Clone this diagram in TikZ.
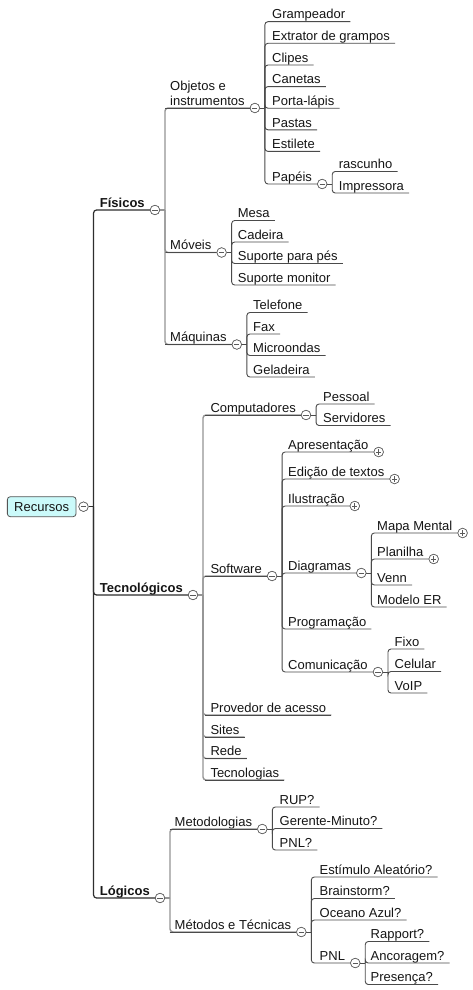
\documentclass[tikz,border=0pt]{standalone}
\usepackage{fontspec}
\setmainfont{Liberation Sans}
\usetikzlibrary{calc}
\definecolor{txt}{HTML}{151515}
\definecolor{trunkc}{HTML}{2E2E2E}
\definecolor{lonec}{HTML}{959595}
\definecolor{ltwoc}{HTML}{4A4A4A}
\definecolor{togline}{HTML}{5A5A5A}
\definecolor{rootfill}{HTML}{CBFAFA}
\definecolor{boxline}{HTML}{555555}
\begin{document}
\begin{tikzpicture}[x=1pt,y=-1pt,
  font=\fontsize{13}{14.5}\selectfont,
  topic/.style={anchor=south west, inner xsep=5pt, inner ysep=2.5pt, text depth=0pt, text=txt},
  bold/.style={font=\fontsize{13}{14.5}\selectfont\bfseries},
  rootbox/.style={draw=boxline, fill=rootfill, rounded corners=3pt, minimum width=68.7pt, minimum height=20pt, inner sep=0pt, line width=0.8pt, text=txt},
  tog/.style={circle, draw=togline, fill=white, line width=0.6pt, minimum size=9.5pt, inner sep=0pt, anchor=west},
  togminus/.style={tog, path picture={\draw[togline, line width=0.8pt] ([xshift=-2.6pt]path picture bounding box.center) -- ([xshift=2.6pt]path picture bounding box.center);}},
  togplus/.style={tog, path picture={\draw[togline, line width=0.8pt] ([xshift=-2.6pt]path picture bounding box.center) -- ([xshift=2.6pt]path picture bounding box.center) ([yshift=-2.6pt]path picture bounding box.center) -- ([yshift=2.6pt]path picture bounding box.center);}},
  trunk/.style={draw=trunkc, line width=1.2pt, rounded corners=3pt},
  lone/.style={draw=lonec, line width=1.4pt, rounded corners=3pt},
  uline/.style={draw=ltwoc, line width=0.9pt},
  ltwo/.style={draw=ltwoc, line width=0.9pt, rounded corners=3pt},
]
\fill[white] (0,0) rectangle (473,990);
\useasboundingbox (0,0) rectangle (473,990);

% ---------- root ----------
\node[rootbox] (root) at (41.7,506.7) {Recursos};
\node[togminus] (root-c) at ([xshift=2pt]root.east) {};
\coordinate (root-s) at ([xshift=5pt]root-c.east);

% ---------- level 1 ----------
\node[topic,bold] (fis) at (94.7,210) {Físicos};
\node[topic,bold] (tec) at (94.7,595) {Tecnológicos};
\node[topic,bold] (log) at (94.7,898) {Lógicos};
\foreach \n in {fis,tec,log}{
  \node[togminus] (\n-c) at (\n.south east) {};
  \coordinate (\n-s) at ([xshift=5pt]\n-c.east);
}

% ---------- Físicos ----------
\node[topic,align=left] (obj) at (165,108) {Objetos e\\instrumentos};
\node[topic] (mov) at (165,252.5) {Móveis};
\node[topic] (maq) at (165,344.5) {Máquinas};
\foreach \n in {obj,mov,maq}{
  \node[togminus] (\n-c) at (\n.south east) {};
  \coordinate (\n-s) at ([xshift=5pt]\n-c.east);
}

\node[topic] (o1) at (267,21.7) {Grampeador};
\node[topic] (o2) at (267,43.3) {Extrator de grampos};
\node[topic] (o3) at (267,65) {Clipes};
\node[topic] (o4) at (267,86.6) {Canetas};
\node[topic] (o5) at (267,108.2) {Porta-lápis};
\node[topic] (o6) at (267,129.8) {Pastas};
\node[topic] (o7) at (267,151.4) {Estilete};
\node[topic] (pap) at (267,184) {Papéis};
\node[togminus] (pap-c) at (pap.south east) {};
\coordinate (pap-s) at ([xshift=5pt]pap-c.east);
\node[topic] (p1) at (333.7,171.5) {rascunho};
\node[topic] (p2) at (333.7,193) {Impressora};

\node[topic] (m1) at (232.7,220.5) {Mesa};
\node[topic] (m2) at (232.7,242) {Cadeira};
\node[topic] (m3) at (232.7,263.5) {Suporte para pés};
\node[topic] (m4) at (232.7,285) {Suporte monitor};

\node[topic] (q1) at (248,312.5) {Telefone};
\node[topic] (q2) at (248,334) {Fax};
\node[topic] (q3) at (248,355.5) {Microondas};
\node[topic] (q4) at (248,377) {Geladeira};

% ---------- Tecnológicos ----------
\node[topic] (comp) at (205.3,415) {Computadores};
\node[topic] (soft) at (205.3,576) {Software};
\foreach \n in {comp,soft}{
  \node[togminus] (\n-c) at (\n.south east) {};
  \coordinate (\n-s) at ([xshift=5pt]\n-c.east);
}
\node[topic] (prov) at (205.3,715) {Provedor de acesso};
\node[topic] (sites) at (205.3,737) {Sites};
\node[topic] (rede) at (205.3,758.5) {Rede};
\node[topic] (tecn) at (205.3,780) {Tecnologias};

\node[topic] (c1) at (318,404) {Pessoal};
\node[topic] (c2) at (318,425.5) {Servidores};

\node[topic] (apr) at (283,452) {Apresentação};
\node[topic] (edi) at (283,479) {Edição de textos};
\node[topic] (ilu) at (283,506) {Ilustração};
\node[topic] (diag) at (283,573) {Diagramas};
\node[topic] (prog) at (283,629) {Programação};
\node[topic] (com) at (283,672) {Comunicação};
\foreach \n in {apr,edi,ilu}{
  \node[togplus] (\n-c) at (\n.south east) {};
}
\foreach \n in {diag,com}{
  \node[togminus] (\n-c) at (\n.south east) {};
  \coordinate (\n-s) at ([xshift=5pt]\n-c.east);
}

\node[topic] (mapa) at (372,533) {Mapa Mental};
\node[topic] (plan) at (372,559) {Planilha};
\foreach \n in {mapa,plan}{
  \node[togplus] (\n-c) at (\n.south east) {};
}
\node[topic] (venn) at (372,585) {Venn};
\node[topic] (mer) at (372,607) {Modelo ER};

\node[topic] (k1) at (389.5,649) {Fixo};
\node[topic] (k2) at (389.5,671.5) {Celular};
\node[topic] (k3) at (389.5,693) {VoIP};

% ---------- Lógicos ----------
\node[topic] (met) at (169.5,829) {Metodologias};
\node[topic] (mt) at (169.5,932) {Métodos e Técnicas};
\foreach \n in {met,mt}{
  \node[togminus] (\n-c) at (\n.south east) {};
  \coordinate (\n-s) at ([xshift=5pt]\n-c.east);
}
\node[topic] (e1) at (274.5,807) {RUP?};
\node[topic] (e2) at (274.5,828.5) {Gerente-Minuto?};
\node[topic] (e3) at (274.5,850) {PNL?};

\node[topic] (t1) at (314.5,877) {Estímulo Aleatório?};
\node[topic] (t2) at (314.5,898.5) {Brainstorm?};
\node[topic] (t3) at (314.5,920) {Oceano Azul?};
\node[topic] (pnl) at (314.5,963) {PNL};
\node[togminus] (pnl-c) at (pnl.south east) {};
\coordinate (pnl-s) at ([xshift=5pt]pnl-c.east);

\node[topic] (r1) at (365.5,941.5) {Rapport?};
\node[topic] (r2) at (365.5,963) {Ancoragem?};
\node[topic] (r3) at (365.5,984.5) {Presença?};

% ---------- connectors ----------
% trunk
\draw[trunk] (root-c.east) -- (root-s);
\foreach \n in {fis,tec,log}{ \draw[trunk] (root-s) |- (\n-c.west); }

% level 1 -> level 2
\foreach \p/\n in {fis/obj,fis/mov,fis/maq,tec/comp,tec/soft,log/met,log/mt}{
  \draw[lone] (\p-c.east) -- (\p-s);
  \draw[lone] (\p-s) |- (\n-c.west);
  \draw[uline] (\n.south west) -- (\n-c.west);
}
\foreach \n in {prov,sites,rede,tecn}{
  \draw[lone] (tec-s) |- (\n.south east);
  \draw[uline] (\n.south west) -- (\n.south east);
}

% deeper levels
\foreach \p in {obj,mov,maq,pap,comp,soft,diag,com,met,mt,pnl}{
  \draw[ltwo] (\p-c.east) -- (\p-s);
}
\foreach \p/\n in {obj/o1,obj/o2,obj/o3,obj/o4,obj/o5,obj/o6,obj/o7,
                   pap/p1,pap/p2,
                   mov/m1,mov/m2,mov/m3,mov/m4,
                   maq/q1,maq/q2,maq/q3,maq/q4,
                   comp/c1,comp/c2,
                   soft/prog,
                   diag/venn,diag/mer,
                   com/k1,com/k2,com/k3,
                   met/e1,met/e2,met/e3,
                   mt/t1,mt/t2,mt/t3,
                   pnl/r1,pnl/r2,pnl/r3}{
  \draw[ltwo] (\p-s) |- (\n.south east);
}
\foreach \p/\n in {obj/pap,soft/apr,soft/edi,soft/ilu,soft/diag,soft/com,
                   diag/mapa,diag/plan,mt/pnl}{
  \draw[ltwo] (\p-s) |- (\n-c.west);
}

% redraw toggles on top
\foreach \n in {root,fis,tec,log,obj,mov,maq,pap,comp,soft,diag,com,met,mt,pnl}{
  \node[togminus] at (\n-c.west) {};
}
\foreach \n in {apr,edi,ilu,mapa,plan}{
  \node[togplus] at (\n-c.west) {};
}
\end{tikzpicture}
\end{document}
